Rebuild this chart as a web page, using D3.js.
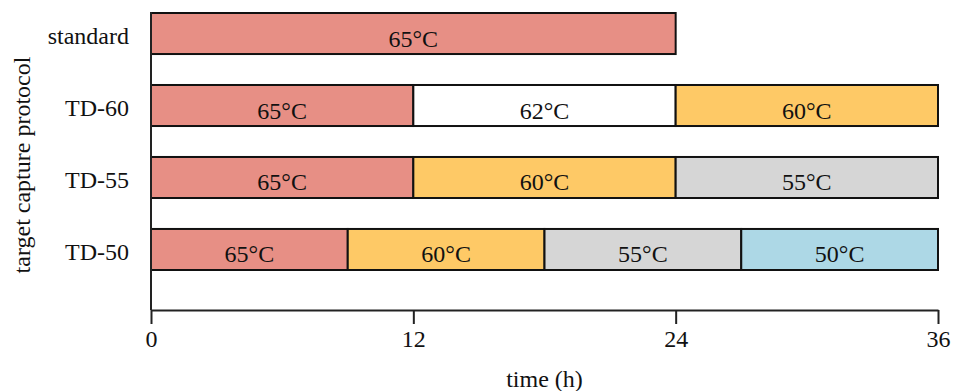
<!DOCTYPE html>
<html lang="en">
<head>
    <meta charset="UTF-8">
    <title>Target capture protocols</title>
    <script src="https://d3js.org/d3.v7.min.js"></script>
    <style>
        body { margin: 0; background: #fff; }
        svg text { font-family: "Liberation Serif", "Times New Roman", serif; fill: #111; }
        .axis path, .axis line { stroke: #222; stroke-width: 2px; }
    </style>
</head>
<body>
    <div id="chart"></div>
    <script>
        // protocols (top to bottom) and their temperature steps, hours per step
        const protocols = ["standard", "TD-60", "TD-55", "TD-50"];
        const temps = [
            ["65°C"],
            ["65°C", "62°C", "60°C"],
            ["65°C", "60°C", "55°C"],
            ["65°C", "60°C", "55°C", "50°C"]
        ];
        const durations = [
            [24],
            [12, 12, 12],
            [12, 12, 12],
            [9, 9, 9, 9]
        ];
        const xTicks = [0, 12, 24, 36];
        const tempColors = {
            "65°C": "#e78f85",
            "62°C": "#ffffff",
            "60°C": "#fec966",
            "55°C": "#d6d6d6",
            "50°C": "#add8e6"
        };

        const width = 954, height = 391;
        const plotLeft = 151, plotRight = 938, plotTop = 12, plotBottom = 310;
        const fs = 24;

        const svg = d3.select("#chart").append("svg")
            .attr("width", width)
            .attr("height", height);

        const x = d3.scaleLinear().domain([0, 36]).range([plotLeft, plotRight]);
        const y = d3.scaleBand().domain(protocols)
            .range([13, 270])
            .paddingInner(0.43)
            .paddingOuter(0);

        // flatten into segments with start/end times
        const segments = [];
        protocols.forEach((p, i) => {
            let t = 0;
            temps[i].forEach((temp, j) => {
                segments.push({ protocol: p, temp: temp, start: t, end: t + durations[i][j] });
                t += durations[i][j];
            });
        });

        const seg = svg.append("g").selectAll("g")
            .data(segments)
            .enter().append("g");

        seg.append("rect")
            .attr("x", d => x(d.start))
            .attr("y", d => y(d.protocol))
            .attr("width", d => x(d.end) - x(d.start))
            .attr("height", y.bandwidth())
            .attr("fill", d => tempColors[d.temp])
            .attr("stroke", "#111")
            .attr("stroke-width", 2);

        seg.append("text")
            .attr("x", d => x((d.start + d.end) / 2))
            .attr("y", d => y(d.protocol) + y.bandwidth() / 2 + 13)
            .attr("text-anchor", "middle")
            .attr("font-size", fs)
            .text(d => d.temp);

        // x axis
        const xAxis = svg.append("g")
            .attr("class", "axis")
            .attr("transform", `translate(0,${plotBottom})`)
            .call(d3.axisBottom(x).tickValues(xTicks).tickSize(14).tickSizeOuter(0).tickPadding(6));
        xAxis.selectAll("text").attr("font-size", fs);

        // y axis (spine only, no ticks)
        const yAxis = svg.append("g")
            .attr("class", "axis")
            .attr("transform", `translate(${plotLeft},0)`)
            .call(d3.axisLeft(y).tickSize(0).tickPadding(22));
        yAxis.select(".domain").attr("d", `M0,${plotTop}V${plotBottom}`);
        yAxis.selectAll("text").attr("font-size", fs).attr("dy", "0.45em");

        svg.append("text")
            .attr("x", (plotLeft + plotRight) / 2)
            .attr("y", 387)
            .attr("text-anchor", "middle")
            .attr("font-size", fs)
            .text("time (h)");

        svg.append("text")
            .attr("transform", `translate(30,${(plotTop + plotBottom) / 2 + 4}) rotate(-90)`)
            .attr("text-anchor", "middle")
            .attr("font-size", fs)
            .text("target capture protocol");
    </script>
</body>
</html>
